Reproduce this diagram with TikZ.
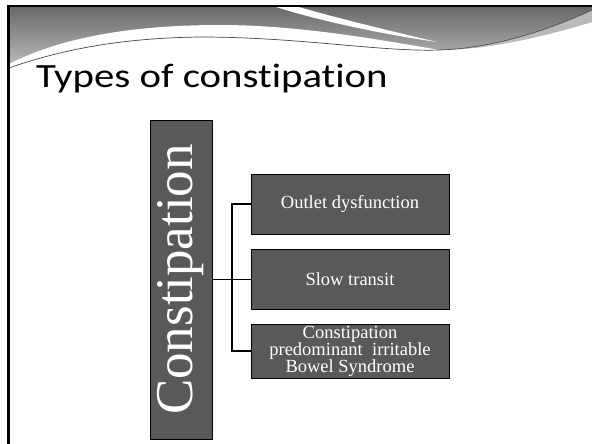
\documentclass[tikz,border=0pt]{standalone}
\usepackage{fontspec}
\newfontfamily\titlefont[Ligatures=NoCommon]{Carlito}
\newfontfamily\boxfont{Liberation Serif}
\definecolor{boxgray}{RGB}{89,89,89}
\begin{document}
\begin{tikzpicture}[x=1pt,y=-1pt,
  subbox/.style={draw=black, line width=0.8pt, fill=boxgray, text=white, minimum width=198pt, inner sep=0pt, align=center, font=\boxfont\fontsize{18.5}{17}\selectfont},
  mainbox/.style={draw=black, line width=0.8pt, fill=boxgray, text=white, minimum width=62pt, minimum height=319pt, inner sep=0pt, font=\boxfont\fontsize{53}{53}\selectfont},
  conn/.style={draw=black, line width=1.1pt}]
\useasboundingbox (0,0) rectangle (592,444);
\fill[white] (0,0) rectangle (592,444);
% header band
\shade[top color={rgb,255:red,105;green,105;blue,105}, bottom color={rgb,255:red,190;green,190;blue,190}]
  (9,7) -- (592,7) -- (592,10) .. controls (560,25) and (500,48) .. (440,50)
  .. controls (380,52) and (300,37) .. (200,37) .. controls (120,38) and (60,50) .. (9,68) -- cycle;
% white swoosh
\fill[white] (9,64) .. controls (60,38) and (130,25) .. (220,25) .. controls (300,25) and (380,40) .. (440,50)
  .. controls (380,52) and (300,37) .. (200,37) .. controls (120,38) and (60,50) .. (9,68) -- cycle;
% light band on the right
\fill[gray!55] (440,50) .. controls (500,48) and (560,25) .. (592,10) -- (592,22) .. controls (550,35) and (490,50) .. (440,50) -- cycle;
% swoosh line
\draw[gray!60!black, line width=0.7pt] (9,68) .. controls (60,50) and (120,38) .. (200,37) .. controls (300,37) and (380,52) .. (440,50) .. controls (500,48) and (560,25) .. (592,10);
% white diagonal wedge
\fill[white] (276,7) -- (299,7) .. controls (340,19) and (395,32) .. (437,42) .. controls (395,36) and (330,24) .. (276,7) -- cycle;
% slide border
\draw[black, line width=2.4pt, line cap=rect] (8.5,444) -- (8.5,6) -- (592,6);
% title
\node[anchor=base west, font=\titlefont\fontsize{34}{34}\selectfont, inner sep=0pt] (title) at (36,88) {\scalebox{1.2}[1]{Types of constipation}};
% diagram
\node[mainbox] (main) at (181,279.5) {\rotatebox{90}{Constipation}};
\node[subbox, minimum height=60pt] (b1) at (350,204) {Outlet dysfunction};
\node[subbox, minimum height=60pt] (b2) at (350,279.5) {Slow transit};
\node[subbox, minimum height=54pt] (b3) at (350,351) {Constipation\\predominant\ \ irritable\\Bowel Syndrome};
\coordinate (j) at (232,279.5);
\draw[conn] (main.east) -- (b2.west);
\draw[conn] (b1.west) -| (j) |- (b3.west);
\end{tikzpicture}
\end{document}
